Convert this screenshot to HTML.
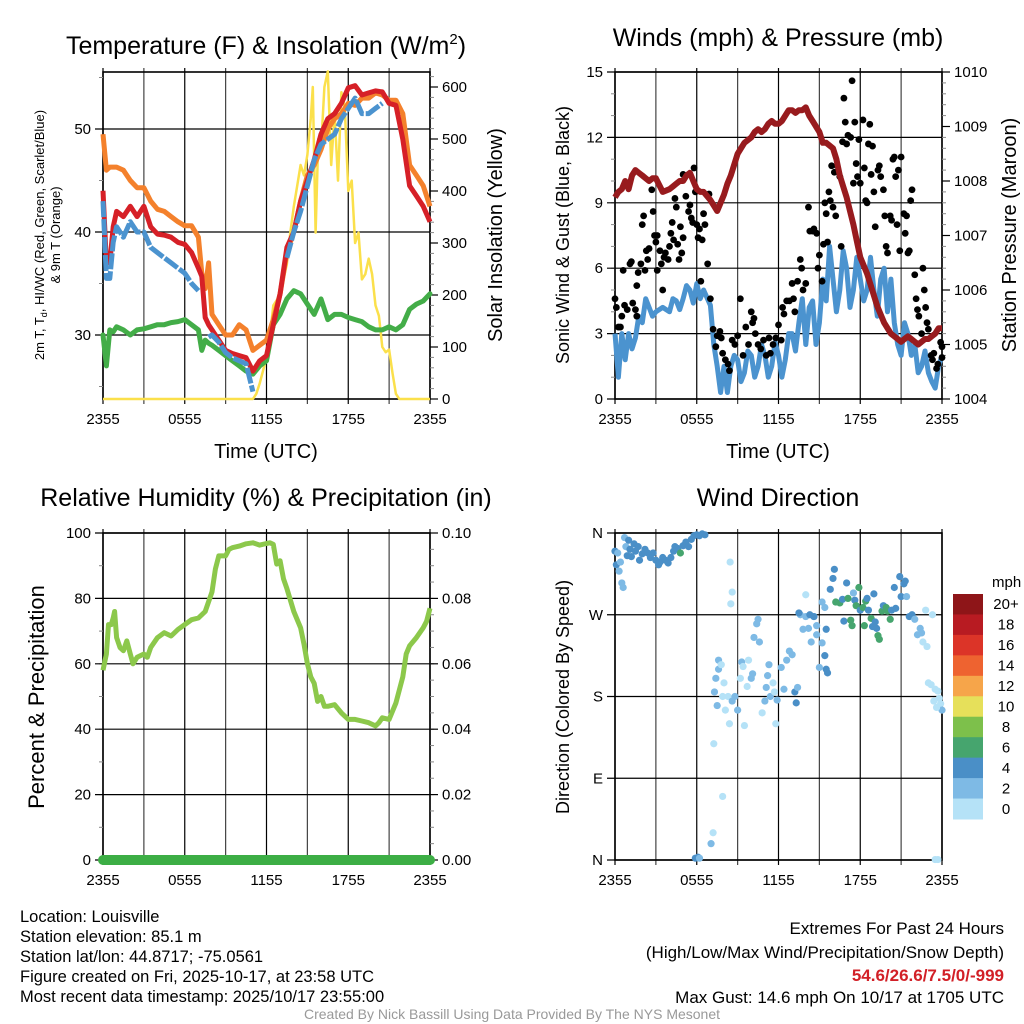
<!DOCTYPE html>
<html><head><meta charset="utf-8">
<style>
html,body{margin:0;padding:0;background:#fff;}
svg{display:block;font-family:"Liberation Sans",sans-serif;}
</style></head>
<body>
<svg id="fig" width="1024" height="1024" viewBox="0 0 1024 1024" xmlns="http://www.w3.org/2000/svg">
<rect width="1024" height="1024" fill="#fff"/>
<text x="266" y="54" font-size="25" text-anchor="middle">Temperature (F) &amp; Insolation (W/m<tspan dy="-10" font-size="15">2</tspan><tspan dy="10">)</tspan></text>
<text x="778" y="46" font-size="25" text-anchor="middle">Winds (mph) &amp; Pressure (mb)</text>
<text x="266" y="506" font-size="25" text-anchor="middle">Relative Humidity (%) &amp; Precipitation (in)</text>
<text x="778" y="506" font-size="25" text-anchor="middle">Wind Direction</text>

<text transform="translate(44,235) rotate(-90)" font-size="13" text-anchor="middle">2m T, T<tspan dy="3" font-size="9">d</tspan><tspan dy="-3">, HI/WC (Red, Green, Scarlet/Blue)</tspan></text>
<text transform="translate(60,235) rotate(-90)" font-size="13" text-anchor="middle">&amp; 9m T (Orange)</text>
<text transform="translate(502,235) rotate(-90)" font-size="20" text-anchor="middle">Solar Insolation (Yellow)</text>
<text x="266" y="458" font-size="20" text-anchor="middle">Time (UTC)</text>
<text transform="translate(569,235) rotate(-90)" font-size="18" text-anchor="middle">Sonic Wind &amp; Gust (Blue, Black)</text>
<text transform="translate(1016,235) rotate(-90)" font-size="20" text-anchor="middle">Station Pressure (Maroon)</text>
<text x="778" y="458" font-size="20" text-anchor="middle">Time (UTC)</text>
<text transform="translate(44,697) rotate(-90)" font-size="22" text-anchor="middle">Percent &amp; Precipitation</text>
<text transform="translate(569,697) rotate(-90)" font-size="18" text-anchor="middle">Direction (Colored By Speed)</text>

<g font-size="16.5">
<text x="20" y="922">Location: Louisville</text>
<text x="20" y="942">Station elevation: 85.1 m</text>
<text x="20" y="962">Station lat/lon: 44.8717; -75.0561</text>
<text x="20" y="982">Figure created on Fri, 2025-10-17, at 23:58 UTC</text>
<text x="20" y="1002">Most recent data timestamp: 2025/10/17 23:55:00</text>
</g>
<g font-size="17" text-anchor="end">
<text x="1004" y="934">Extremes For Past 24 Hours</text>
<text x="1004" y="958">(High/Low/Max Wind/Precipitation/Snow Depth)</text>
<text x="1004" y="981" fill="#d22027" font-weight="bold">54.6/26.6/7.5/0/-999</text>
<text x="1004" y="1003">Max Gust: 14.6 mph On 10/17 at 1705 UTC</text>
</g>
<text x="512" y="1019" font-size="14" fill="#999" text-anchor="middle">Created By Nick Bassill Using Data Provided By The NYS Mesonet</text>
<g id="plots"></g>
</svg>
<script>
// ---------- data ----------
const xTickLabels = ["2355","0555","1155","1755","2355"];
const tempTicks = [30,40,50];
const solarTicks = [0,100,200,300,400,500,600];
const windTicks = [0,3,6,9,12,15];
const presTicks = [1004,1005,1006,1007,1008,1009,1010];
const rhTicks = [0,20,40,60,80,100];
const precipTicks = ["0.00","0.02","0.04","0.06","0.08","0.10"];
const dirTicks = ["N","E","S","W","N"];
const legendLabels = ["20+","18","16","14","12","10","8","6","4","2","0"];
const legendColors = ["#8e1518","#b81b22","#dc3428","#ee6330","#f6a54a","#e6e05a","#7dc04b","#46a56e","#4a8fc7","#7ebae5","#b5e2f7"];

const tHours = [0,0.25,0.5,0.75,1,1.5,2,2.5,3,3.5,4,4.5,5,5.5,6,6.5,7,7.25,7.5,7.75,8,8.5,9,9.5,10,10.5,11,11.5,12,12.5,13,13.5,14,14.5,15,15.5,16,16.5,17,17.5,18,18.5,19,19.5,20,20.5,21,21.5,22,22.5,23,23.5,24];
const tempRed = [44,37,37,40.5,42,41.5,42.5,41.5,42.5,40.5,39.8,39.7,39.5,39,38.8,38,36.5,35.7,31.7,31,30.5,29.5,28.5,28.2,28,27.8,26.5,27.5,28,31,34,38.5,40,43,45,47,49.5,51,51.5,52.5,54,54.2,53.3,53.5,53.7,53.6,52.5,52.3,49,44.5,43.5,42.5,41];
const tempOrange = [49.5,46,46.3,46.3,46.3,46,45,44.3,44.3,43,42.2,42,41.5,41,40.6,40.6,39.5,36,34.5,37,32,31,30,30,31,30.5,28.5,29,29.5,31.5,34,38,40,43,45.5,46.5,48,50,51,51.5,52.5,52.3,53,53,53.5,53.3,52.8,52.8,51.5,46.5,45.5,44.5,42.5];
const tempBlue = [43,35.5,35.5,39,40.5,39.5,41,40,40,38.5,38,37.5,37,36.5,36,35,34.3,null,null,29.8,30,29.3,28.3,27.8,27.5,27.2,24.5,null,null,null,null,37.5,40,42,44.5,47,48.5,49,49.5,51,52,53,51.5,51.5,52,52.5,null,null,null,null,null,null,null];
const dewGreen = [30,27,30.5,30.3,30.8,30.5,30,30.5,30.6,30.8,31,31,31.2,31.3,31.5,31,30.5,28.5,29.5,29.2,29,28.5,28,27.5,27,26.5,26.2,27,27.5,31,32,33.5,34.3,34,33,32,33.5,31.5,32,32,31.7,31.5,31.3,30.8,30.5,30.5,30.8,30.5,31,32.5,33,33.3,34];

const solarHours = [0,11,11.25,11.5,12,12.25,12.5,13,13.5,13.75,14,14.25,14.5,14.75,15,15.25,15.4,15.6,15.8,16,16.25,16.5,16.75,17,17.25,17.5,17.75,18,18.25,18.5,18.75,19,19.25,19.5,19.75,20,20.25,20.5,20.75,21,21.25,21.5,21.75,24];
const solarVals = [0,0,10,30,80,120,180,200,260,320,370,410,450,430,470,540,600,320,500,480,600,630,450,550,420,590,560,400,420,300,320,230,240,270,240,180,160,100,90,95,50,10,0,0];

const windHours = [0,0.25,0.5,0.75,1,1.25,1.5,1.75,2,2.25,2.5,2.75,3,3.5,4,4.25,4.5,4.75,5,5.25,5.5,5.75,6,6.25,6.5,7,7.25,7.5,7.75,8,8.25,8.5,8.75,9,9.25,9.5,9.75,10,10.25,10.5,10.75,11,11.25,11.5,11.75,12,12.25,12.5,12.75,13,13.25,13.5,13.75,14,14.25,14.5,14.75,15,15.25,15.5,15.75,16,16.25,16.5,16.75,17,17.25,17.5,17.75,18,18.25,18.5,18.75,19,19.25,19.5,19.75,20,20.25,20.5,20.75,21,21.25,21.5,21.75,22,22.25,22.5,22.75,23,23.25,23.5,23.75,24];
const windVals = [3,1,3,1.8,3,2.3,2.8,3.8,3.5,4.6,4.2,3.8,4,4.2,4,4.6,4.5,4.1,4.6,5.2,5,4.4,5.3,4.6,5,4.3,2.5,1.5,0.3,1.5,0.3,1.5,2,1.8,0.8,1.2,2.2,2,1,1.5,2.5,2,1,1.5,2.6,2,1,1.8,3,3,2.2,3.5,4.6,2.5,4.2,4.5,2.5,3.5,5.5,4.5,7,5.5,4,5,6.8,6,4.2,5,6.5,5.5,4.5,5,6.5,5,3.8,5.5,6,4,5.5,3.5,2.5,2,3.5,3,2,2.5,1.2,1.5,2.2,1.2,0.8,0.5,1.5,2];
const presVals = [1007.7,1007.8,1007.85,1008,1007.85,1008.1,1008.2,1008.15,1008.1,1008.05,1008,1008.05,1008.05,1007.8,1007.85,1007.9,1007.95,1008,1008,1008.1,1008.15,1008,1007.85,1007.8,1007.8,1007.65,1007.55,1007.45,1007.6,1007.75,1007.95,1008.1,1008.3,1008.5,1008.6,1008.7,1008.75,1008.8,1008.9,1008.95,1008.9,1008.95,1009.05,1009.1,1009.05,1009.05,1009.1,1009.2,1009.3,1009.3,1009.25,1009.3,1009.3,1009.35,1009.2,1009.1,1009.0,1008.9,1008.7,1008.7,1008.65,1008.6,1008.4,1008.1,1007.9,1007.7,1007.45,1007.2,1006.9,1006.6,1006.45,1006.3,1006.1,1005.9,1005.7,1005.55,1005.4,1005.3,1005.2,1005.15,1005.1,1005.05,1005.1,1005.15,1005.1,1005.05,1005.0,1005.05,1005.1,1005.1,1005.15,1005.2,1005.3,1005.3];

const gustHours = [0,0.1,0.25,0.4,0.5,0.6,0.7,0.9,1.1,1.2,1.3,1.5,1.6,1.6,1.7,1.9,2.0,2.1,2.2,2.3,2.4,2.5,2.7,2.8,2.9,3.0,3.1,3.1,3.3,3.4,3.5,3.6,3.7,3.9,4.0,4.1,4.2,4.3,4.4,4.5,4.6,4.7,4.8,4.9,5.0,5.0,5.2,5.4,5.5,5.6,5.7,5.8,5.9,6.0,6.1,6.2,6.3,6.4,6.5,6.6,6.8,6.9,7.0,7.2,7.4,7.5,7.7,7.8,7.9,8.1,8.3,8.4,8.6,8.8,9.0,9.2,9.4,9.6,9.8,10.0,10.1,10.2,10.3,10.5,10.7,10.9,11.1,11.3,11.4,11.6,11.8,12.0,12.2,12.3,12.4,12.6,12.8,13.0,13.1,13.2,13.4,13.6,13.7,13.8,14.0,14.2,14.3,14.5,14.6,14.8,14.9,15.0,15.2,15.3,15.4,15.5,15.6,15.7,15.8,15.9,16.0,16.1,16.2,16.3,16.5,16.6,16.7,16.8,16.9,17.0,17.1,17.3,17.4,17.5,17.6,17.7,17.8,17.9,18.0,18.2,18.3,18.4,18.5,18.6,18.7,18.8,18.9,19.0,19.1,19.3,19.4,19.5,19.7,19.8,19.9,20.0,20.2,20.3,20.4,20.5,20.6,20.7,20.8,20.9,21.0,21.2,21.3,21.4,21.5,21.6,21.7,21.8,22.0,22.1,22.2,22.3,22.5,22.6,22.7,22.8,22.9,23.0,23.2,23.3,23.4,23.6,23.7,23.9,24.0,24.0];
const gustVals = [4.6,4.2,3.3,3.3,3.8,5.9,4.3,4.1,6.2,6.3,4.4,4.1,3.8,5.2,5.8,6.2,8.0,8.4,5.9,6.8,6.4,6.9,9.6,8.6,7.5,7.2,7.5,5.9,6.8,6.2,5.0,6.5,6.7,6.4,7.0,7.6,8.1,7.3,9.2,8.8,7.1,6.4,7.9,6.7,7.4,10.3,9.3,8.6,8.9,8.3,8.1,10.6,9.5,8.0,7.4,7.8,5.4,7.3,8.5,8.0,6.2,9.4,4.6,3.2,2.4,2.9,3.1,2.8,2.1,1.8,1.6,1.3,2.7,2.5,2.9,4.6,2.0,3.3,2.5,4.0,3.5,3.7,3.0,2.5,2.3,2.7,2.0,2.8,2.1,2.5,2.8,3.4,2.7,4.2,3.9,4.5,4.5,5.3,4.6,4.0,5.4,6.4,6.0,5.0,5.3,8.8,7.7,7.7,7.8,7.6,6.0,6.6,5.4,7.1,9.0,8.5,7.2,9.5,9.1,10.7,8.8,10.4,8.4,10.7,10.2,7.0,11.8,13.8,12.7,11.7,12.1,12.0,14.6,9.9,12.7,10.8,10.2,11.9,9.9,12.8,10.6,9.1,9.0,11.7,12.6,10.3,11.6,9.5,7.9,10.5,10.7,10.2,9.6,8.4,7.0,6.7,8.4,8.2,11.0,11.1,10.2,8.0,10.5,6.8,11.1,8.5,7.6,8.4,6.7,6.8,9.1,9.6,5.7,4.6,4.1,3.8,3.0,6.0,5.0,4.2,3.5,3.2,2.0,1.8,2.1,1.4,1.6,2.6,2.4,1.9];

const rhHours = [0,0.25,0.4,0.6,0.75,0.85,1,1.25,1.5,1.75,2,2.2,2.5,3,3.25,3.5,4,4.5,5,5.5,6,6.5,7,7.5,8,8.25,8.5,9,9.25,9.5,10,10.5,11,11.5,12,12.25,12.5,12.75,13,13.25,13.5,14,14.5,14.75,15,15.25,15.5,15.75,16,16.25,16.5,17,17.5,18,18.5,19,19.5,20,20.25,20.5,21,21.5,22,22.25,22.5,23,23.5,23.75,24];
const rhVals = [58,63,72,72,74,76,68,65,64,67,63,60,62,63,62,65,68,69.5,68.5,70.5,72,73.5,74,76,82,89,93,93,95,95.5,96,96.7,97,96.3,96.8,97,96.5,90.5,91.5,86,83,76,71,66,60,56,54,48.5,50,47,47,47.5,45,43,43,42.5,42,41,42,43.5,43,48,56,63,65.5,68,71,73,77];
const precipHours = [0,24];
const precipVals = [0,0];

const dirHours = [0,0.1,0.2,0.3,0.4,0.5,0.6,0.7,0.8,0.9,1.0,1.1,1.2,1.4,1.5,1.7,1.8,2.0,2.2,2.4,2.6,2.8,3.0,3.2,3.3,3.5,3.7,3.9,4.1,4.3,4.4,4.6,4.8,5.0,5.2,5.4,5.6,5.8,6.0,6.2,6.4,6.6,5.9,6.1,6.2,7.05,7.2,7.9,7.25,7.6,8.45,8.6,8.5,7.3,7.4,7.5,7.6,7.8,7.9,8.0,8.1,8.3,8.4,8.6,8.8,9.0,9.2,9.3,9.4,9.5,9.7,9.8,10.0,10.1,10.2,10.4,10.5,10.6,10.8,11.0,11.1,11.2,11.3,11.4,11.6,11.7,11.8,11.9,12.2,12.4,12.6,12.8,13.0,13.2,13.3,13.4,13.6,13.8,14.0,14.2,14.4,14.6,14.8,15.0,15.2,15.4,15.5,15.6,13.5,14.0,14.3,14.6,14.8,15.2,15.4,15.5,15.8,16.0,16.1,16.2,16.5,16.7,16.8,17.0,17.1,17.3,17.4,17.5,17.6,17.7,17.9,18.0,18.2,18.3,18.4,18.5,18.6,18.8,18.9,19.0,19.1,19.2,19.3,19.4,19.6,19.7,19.9,20.0,20.2,20.3,20.5,20.6,20.9,21.0,21.2,21.3,21.4,21.6,21.8,22.0,22.2,22.4,22.5,22.6,22.8,22.9,23.3,23.0,23.2,23.4,23.5,23.7,23.8,23.9,24.0,23.6,23.5,23.7];
const dirVals = [340,325,338,318,328,305,300,355,345,335,352,342,334,348,340,345,330,337,342,338,333,338,330,325,328,333,330,327,333,340,345,343,338,346,350,345,353,357,358,357,359,358,2,3,2,18,30,70,128,220,328,295,282,185,200,170,210,215,180,195,165,180,150,175,180,165,200,218,213,148,191,220,200,205,245,260,265,240,162,175,190,203,215,180,195,185,150,176,212,188,220,230,226,185,173,190,270,254,268,255,240,268,248,212,239,225,210,206,272,292,270,268,258,284,278,254,298,310,320,284,283,287,263,305,288,264,258,294,286,280,300,275,278,258,285,288,275,266,257,293,262,255,247,243,274,280,278,274,265,275,300,277,312,290,304,307,290,268,270,265,248,255,250,240,275,235,270,195,193,175,188,186,178,172,165,168,0.5,0.5];
const dirSpeeds = [4,4,2,2,2,2,2,3,2,4,4,4,4,4,4,4,4,4,4,4,4,4,4,4,4,4,4,4,4,4,4,4,6,4,4,4,4,4,4,4,4,4,4,4,2,3,1,1,1,2,1,1,1,2,2,3,2,1,1,1,1,0,1,3,3,3,1,3,1,1,1,0,3,2,2,2,2,3,0,2,2,2,2,2,0,1,1,2,3,3,2,2,3,4,5,3,2,3,3,2,3,3,3,2,3,4,4,4,4,1,4,4,2,2,2,4,4,4,4,6,6,4,4,4,6,7,6,3,4,6,6,4,6,6,6,4,4,6,4,4,4,4,6,6,6,4,7,6,6,4,4,4,4,4,4,4,2,4,4,2,2,2,2,0,1,0,0,0,0,0,0,0,0,0,3,1,0,0,0];

// ---------- drawing ----------
const NS = "http://www.w3.org/2000/svg";
const root = document.getElementById("plots");
function el(tag, attrs, parent, name) {
  const e = document.createElementNS(NS, tag);
  for (const k in attrs) e.setAttribute(k, attrs[k]);
  
  
  (parent || root).appendChild(e);
  return e;
}
function linScale(d0, d1, r0, r1) { return v => r0 + (v - d0) / (d1 - d0) * (r1 - r0); }

function frame(x0, y0, x1, y1, pfx) {
  const g = el("g", {}, root, pfx + "-axes");
  const xs = linScale(0, 24, x0, x1);
  for (let h = 0; h <= 24; h += 3) {
    el("line", {x1: xs(h), y1: y0 - 4, x2: xs(h), y2: y1 + 5, stroke: (h % 6 === 0) ? "#000" : "#444", "stroke-width": 1.2}, g, pfx + "-x-grid");
  }
  for (let i = 0; i < xTickLabels.length; i++) {
    const t = el("text", {x: xs(i * 6), y: y1 + 25, "font-size": 15, "text-anchor": "middle"}, g, pfx + "-x-tick-label");
    t.textContent = xTickLabels[i];
  }
  el("rect", {x: x0, y: y0, width: x1 - x0, height: y1 - y0, fill: "none", stroke: "#000", "stroke-width": 1.6}, g, pfx + "-plot-border");
  return {g: g, xs: xs};
}
function leftAxis(g, ticks, labels, ys, x0, x1, pfx, minor) {
  if (minor) for (const m of minor) el("line", {x1: x0 - 4, y1: ys(m), x2: x0, y2: ys(m), stroke: "#888", "stroke-width": 1}, g, pfx + "-minor-tick");
  ticks.forEach((v, i) => {
    el("line", {x1: x0 - 8, y1: ys(v), x2: x1, y2: ys(v), stroke: "#000", "stroke-width": 1.2}, g, pfx + "-y-grid");
    const t = el("text", {x: x0 - 12, y: ys(v) + 5, "font-size": 15, "text-anchor": "end"}, g, pfx + "-y-tick-label");
    t.textContent = labels[i];
  });
}
function rightAxis(g, ticks, labels, ys, x1, pfx, minor) {
  if (minor) for (const m of minor) el("line", {x1: x1, y1: ys(m), x2: x1 + 4, y2: ys(m), stroke: "#888", "stroke-width": 1}, g, pfx + "-right-minor-tick");
  ticks.forEach((v, i) => {
    el("line", {x1: x1, y1: ys(v), x2: x1 + 8, y2: ys(v), stroke: "#000", "stroke-width": 1.2}, g, pfx + "-right-tick");
    const t = el("text", {x: x1 + 12, y: ys(v) + 5, "font-size": 15}, g, pfx + "-right-tick-label");
    t.textContent = labels[i];
  });
}
function pathFrom(hours, vals, xs, ys) {
  let d = "", pen = false;
  for (let i = 0; i < hours.length; i++) {
    if (vals[i] === null) { pen = false; continue; }
    d += (pen ? "L" : "M") + xs(hours[i]).toFixed(1) + "," + ys(vals[i]).toFixed(1);
    pen = true;
  }
  return d;
}
function range(a, b, s) { const r = []; for (let v = a; v <= b + 1e-9; v += s) r.push(v); return r; }

// Panel 1: temperature
(function () {
  const X0 = 103, X1 = 430, Y0 = 72, Y1 = 399;
  const f = frame(X0, Y0, X1, Y1, "temp");
  const ys = linScale(30, 50, 335, 129);
  const ysS = linScale(0, 600, 399, 87);
  leftAxis(f.g, tempTicks, tempTicks.map(String), ys, X0, X1, "temp", range(25, 55, 5));
  rightAxis(f.g, solarTicks, solarTicks.map(String), ysS, X1, "solar", range(0, 620, 20));
  const xs = f.xs;
  el("path", {d: pathFrom(solarHours, solarVals, xs, ysS), fill: "none", stroke: "#fbe04b", "stroke-width": 2.5, "stroke-linejoin": "round"}, root, "solar-insolation-line");
  el("path", {d: pathFrom(tHours, dewGreen, xs, ys), fill: "none", stroke: "#43ad48", "stroke-width": 5, "stroke-linejoin": "round", "stroke-linecap": "round"}, root, "dewpoint-line");
  el("path", {d: pathFrom(tHours, tempOrange, xs, ys), fill: "none", stroke: "#f4812c", "stroke-width": 5, "stroke-linejoin": "round"}, root, "temp-9m-line");
  el("path", {d: pathFrom(tHours, tempRed, xs, ys), fill: "none", stroke: "#d62027", "stroke-width": 5, "stroke-linejoin": "round"}, root, "temp-2m-line");
  el("path", {d: pathFrom(tHours, tempBlue, xs, ys), fill: "none", stroke: "#4b93cf", "stroke-width": 5, "stroke-dasharray": "16 2", "stroke-linejoin": "round"}, root, "heat-index-wind-chill-line");
})();

// Panel 2: wind & pressure
(function () {
  const X0 = 615, X1 = 942, Y0 = 72, Y1 = 399;
  const f = frame(X0, Y0, X1, Y1, "wind");
  const ys = linScale(0, 15, 399, 72);
  const ysP = linScale(1004, 1010, 399, 72);
  leftAxis(f.g, windTicks, windTicks.map(String), ys, X0, X1, "wind", range(0, 15, 1));
  rightAxis(f.g, presTicks, presTicks.map(String), ysP, X1, "pressure", range(1004, 1010, 0.2));
  const xs = f.xs;
  el("path", {d: pathFrom(windHours, windVals, xs, ys), fill: "none", stroke: "#4b93cf", "stroke-width": 5, "stroke-linejoin": "round"}, root, "sonic-wind-line");
  const gg = el("g", {fill: "#000"}, root, "gust-points");
  for (let i = 0; i < gustHours.length; i++) {
    el("circle", {cx: xs(gustHours[i]), cy: ys(gustVals[i]), r: 3.4}, gg, "gust-point");
  }
  el("path", {d: pathFrom(windHours, presVals, xs, ysP), fill: "none", stroke: "#981b1e", "stroke-width": 6, "stroke-linejoin": "round"}, root, "pressure-line");
})();

// Panel 3: RH & precip
(function () {
  const X0 = 103, X1 = 430, Y0 = 533, Y1 = 860;
  const f = frame(X0, Y0, X1, Y1, "rh");
  const ys = linScale(0, 100, 860, 533);
  leftAxis(f.g, rhTicks, rhTicks.map(String), ys, X0, X1, "rh", range(0, 100, 10));
  rightAxis(f.g, rhTicks, precipTicks, ys, X1, "precip", range(0, 100, 5));
  const xs = f.xs;
  el("path", {d: pathFrom(rhHours, rhVals, xs, ys), fill: "none", stroke: "#8cc84b", "stroke-width": 5, "stroke-linejoin": "round"}, root, "relative-humidity-line");
  const ysPr = linScale(0, 0.1, 860, 533);
  el("path", {d: pathFrom(precipHours, precipVals, xs, ysPr), fill: "none", stroke: "#3cae45", "stroke-width": 10, "stroke-linecap": "round"}, root, "precipitation-line");
})();

// Panel 4: wind direction
(function () {
  const X0 = 615, X1 = 942, Y0 = 533, Y1 = 860;
  const f = frame(X0, Y0, X1, Y1, "wdir");
  const ys = linScale(0, 360, 860, 533);
  leftAxis(f.g, [0, 90, 180, 270, 360], dirTicks, ys, X0, X1, "wdir", null);
  const xs = f.xs;
  const sg = el("g", {}, root, "direction-points");
  function colorFor(s) { const idx = Math.min(10, Math.floor(s / 2)); return legendColors[10 - idx]; }
  for (let i = 0; i < dirHours.length; i++) {
    el("circle", {cx: xs(dirHours[i]), cy: ys(dirVals[i]), r: 3.6, fill: colorFor(dirSpeeds[i])}, sg, "direction-point");
  }
  const lg = el("g", {}, root, "speed-legend");
  const t = el("text", {x: 992, y: 587, "font-size": 15}, lg, "legend-title");
  t.textContent = "mph";
  const bh = 225 / legendColors.length;
  for (let i = 0; i < legendColors.length; i++) {
    el("rect", {x: 953, y: 594 + i * bh, width: 30, height: bh + 0.5, fill: legendColors[i]}, lg, "legend-swatch");
    const lt = el("text", {x: 1006, y: 594 + i * bh + bh / 2 + 5, "font-size": 15, "text-anchor": "middle"}, lg, "legend-label");
    lt.textContent = legendLabels[i];
  }
})();
</script>
</body></html>
